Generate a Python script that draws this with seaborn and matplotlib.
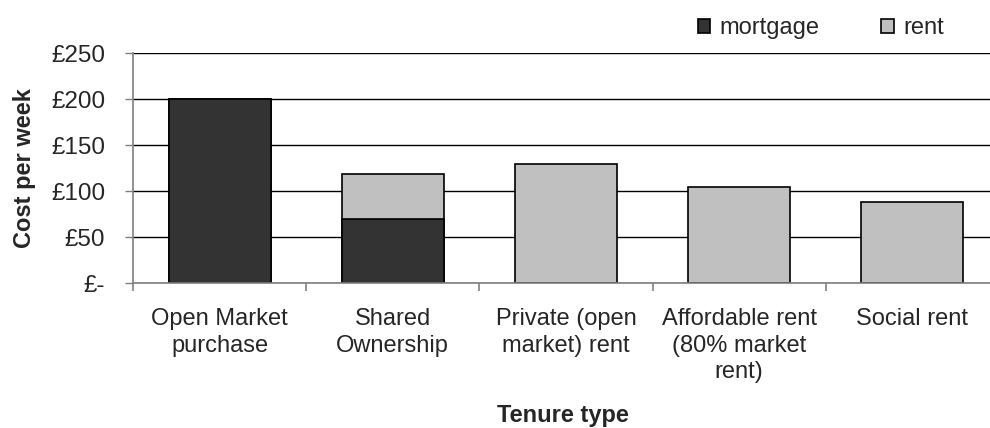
import pandas as pd
import matplotlib
matplotlib.use('Agg')
import matplotlib.pyplot as plt
import seaborn as sns

# 데이터
categories = ['Open Market\npurchase', 'Shared\nOwnership', 'Private (open\nmarket) rent',
              'Affordable rent\n(80% market\nrent)', 'Social rent']
mortgage = [200, 70, 0, 0, 0]
rent = [0, 49, 129, 104, 88]
y_ticks = [0, 50, 100, 150, 200, 250]
y_tick_labels = ['£-', '£50', '£100', '£150', '£200', '£250']

df = pd.DataFrame({'tenure': categories, 'mortgage': mortgage, 'rent': rent})
df['total'] = df['mortgage'] + df['rent']

sns.set_style('white')
plt.rcParams['font.family'] = ['Liberation Sans', 'DejaVu Sans']

fig = plt.figure(figsize=(9.9, 4.28), dpi=100)
ax = fig.add_axes([133 / 990, 1 - 283 / 428, 866 / 990, 230 / 428])

ax.set_axisbelow(True)
ax.yaxis.grid(True, color='black', linewidth=1)

# 누적 막대: 전체(rent 색) 먼저, 그 위에 mortgage
sns.barplot(data=df, x='tenure', y='total', color='#C0C0C0', saturation=1,
            edgecolor='black', linewidth=1.2, width=0.59, ax=ax, label='rent')
sns.barplot(data=df, x='tenure', y='mortgage', color='#333333', saturation=1,
            edgecolor='black', linewidth=1.2, width=0.59, ax=ax, label='mortgage')
handles, labels = ax.get_legend_handles_labels()
if ax.get_legend() is not None:
    ax.get_legend().remove()

ax.set_ylim(0, 250)
ax.set_xlim(-0.5, 4.5)
ax.set_yticks(y_ticks)
ax.set_yticklabels(y_tick_labels, fontsize=17.5)
ax.tick_params(axis='y', length=6, color='#808080', width=1, pad=14, left=True)
ax.set_xticks(range(len(categories)))
ax.set_xticklabels(categories, fontsize=17, linespacing=1.27, va='top')
ax.tick_params(axis='x', length=0, pad=18)
ax.set_xticks([i - 0.5 for i in range(len(categories) + 1)], minor=True)
ax.tick_params(axis='x', which='minor', length=6, color='#808080', width=1.2, bottom=True)

for side in ['top', 'right']:
    ax.spines[side].set_visible(False)
for side in ['left', 'bottom']:
    ax.spines[side].set_color('#808080')
    ax.spines[side].set_linewidth(1.2)

ax.set_ylabel('Cost per week', fontsize=17, fontweight='bold', labelpad=11)
ax.set_xlabel('')
fig.text(ax.get_position().x0 + ax.get_position().width * 0.5 - 0.003, 1 - 422 / 428,
         'Tenure type', fontsize=17, fontweight='bold', ha='center', va='baseline')

order = [labels.index('mortgage'), labels.index('rent')]
fig.legend([handles[i] for i in order], [labels[i] for i in order],
           loc='center', bbox_to_anchor=(821 / 990, 1 - 28 / 428), ncol=2,
           frameon=False, fontsize=17, handlelength=0.55, handleheight=0.55,
           handletextpad=0.4, columnspacing=2.6)

fig.savefig('out.png', dpi=100)
